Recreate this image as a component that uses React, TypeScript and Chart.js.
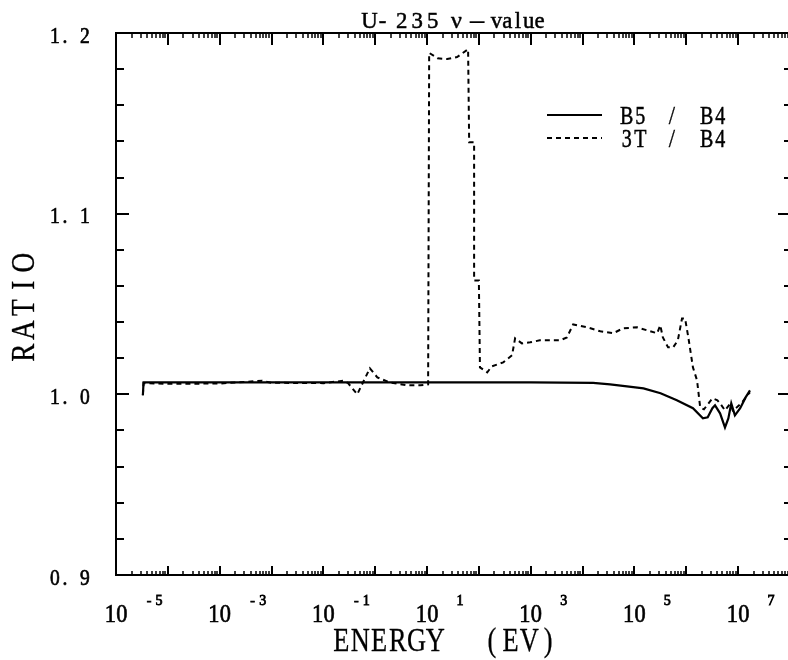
import React, { useEffect, useRef } from "react";
import { Chart, registerables } from "chart.js";

Chart.register(...registerables);

// ---- data (energy in eV, ratio) ----
const b5Energy = [3.3e-5, 3.4e-5, 1e-3, 1e-1, 10, 1e3, 1.6e4, 3.4e4, 7.2e4, 1.5e5, 3.2e5, 6.6e5, 1.35e6, 2.1e6, 2.6e6, 3.2e6, 3.6e6, 4.5e6, 5.6e6, 6.5e6, 7.4e6, 8.7e6, 1.1e7, 1.4e7, 1.7e7];
const b5Ratio = [0.9995, 1.0066, 1.0066, 1.0066, 1.0066, 1.0066, 1.0063, 1.0055, 1.0044, 1.0033, 1.0006, 0.9967, 0.9923, 0.9867, 0.9873, 0.9923, 0.9939, 0.9895, 0.9817, 0.9867, 0.995, 0.9884, 0.9923, 0.9983, 1.0022];

const t3Energy = [3.3e-5, 3.4e-5, 1e-4, 1e-3, 6.6e-3, 1e-2, 0.1, 0.24, 0.3, 0.45, 0.79, 1.1, 1.9, 4.1, 7.4, 10.5, 11.0, 16, 24.5, 38, 62, 65, 81, 81, 100, 105, 145, 178, 295, 437, 500, 676, 977, 1.5e3, 2.3e3, 3.7e3, 5.0e3, 6.6e3, 1.23e4, 2.2e4, 3.9e4, 6.0e4, 1.12e5, 1.78e5, 2.75e5, 3.16e5, 3.55e5, 4.47e5, 5.6e5, 6.9e5, 8.3e5, 9.5e5, 1.1e6, 1.35e6, 1.62e6, 1.86e6, 2.2e6, 3.2e6, 4.0e6, 4.5e6, 5.6e6, 7.1e6, 7.9e6, 9.5e6, 1.2e7, 1.5e7, 1.7e7];
const t3Ratio = [0.9995, 1.0062, 1.0058, 1.006, 1.0075, 1.0064, 1.0062, 1.0075, 1.0062, 1.0, 1.0144, 1.0094, 1.0066, 1.005, 1.005, 1.0055, 1.189, 1.186, 1.1856, 1.1867, 1.191, 1.1395, 1.1395, 1.063, 1.063, 1.0149, 1.0122, 1.0155, 1.0177, 1.0216, 1.031, 1.0282, 1.0288, 1.0299, 1.0299, 1.0299, 1.0315, 1.0387, 1.0371, 1.0349, 1.0338, 1.0365, 1.0371, 1.0354, 1.0338, 1.0382, 1.0315, 1.026, 1.026, 1.0299, 1.042, 1.042, 1.0315, 1.0149, 1.0077, 0.9928, 0.9917, 0.9978, 0.9967, 0.995, 0.9911, 0.995, 0.9911, 0.9928, 0.9956, 0.9994, 1.0011];

const yTickValues = [0.9, 1.0, 1.1, 1.2];
const yTickLabels = ["0. 9", "1. 0", "1. 1", "1. 2"];
const xLabelExponents = [-5, -3, -1, 1, 3, 5, 7];
const seriesNames = [
  ["B5", "/", "B4"],
  ["3T", "/", "B4"],
];
const titleParts = ["U-", "235", "\u03bd", "-", "value"];
const xTitle = "ENERGY  (EV)";
const yTitle = "RATIO";

const SERIF = '"Liberation Serif", "DejaVu Serif", serif';

function cells(ctx: CanvasRenderingContext2D, text: string, left: number, baseline: number, adv: number, size: number, sx: number, bold = 0) {
  ctx.font = `${size}px ${SERIF}`;
  ctx.textAlign = "center";
  ctx.textBaseline = "alphabetic";
  Array.from(text).forEach((ch, i) => {
    if (ch === " ") return;
    ctx.save();
    ctx.translate(left + (i + 0.5) * adv, baseline);
    ctx.scale(sx, 1);
    ctx.fillText(ch, 0, 0);
    if (bold > 0) {
      ctx.lineWidth = bold;
      ctx.strokeText(ch, 0, 0);
    }
    ctx.restore();
  });
}

function seg(ctx: CanvasRenderingContext2D, x1: number, y1: number, x2: number, y2: number) {
  ctx.beginPath();
  ctx.moveTo(x1, y1);
  ctx.lineTo(x2, y2);
  ctx.stroke();
}

const framePlugin = {
  id: "framePlugin",
  afterDraw(chart: any) {
    const ctx: CanvasRenderingContext2D = chart.ctx;
    const xs = chart.scales.x;
    const ys = chart.scales.y;
    const L = xs.left, R = xs.right, T = ys.top, B = ys.bottom;
    ctx.save();
    ctx.strokeStyle = "#000";
    ctx.fillStyle = "#000";
    ctx.lineWidth = 2;
    ctx.lineCap = "butt";
    ctx.beginPath();
    ctx.moveTo(R, T);
    ctx.lineTo(L, T);
    ctx.lineTo(L, B);
    ctx.lineTo(R, B);
    ctx.stroke();

    // x ticks (log)
    for (let d = -5; d <= 8; d++) {
      for (let m = 1; m <= 9; m++) {
        const v = m * Math.pow(10, d);
        if (v < xs.min || v > xs.max) continue;
        const px = Math.round(xs.getPixelForValue(v));
        const major = m === 1;
        ctx.lineWidth = major ? 2 : 1.5;
        seg(ctx, px, B, px, B - (major ? 9 : 4));
        seg(ctx, px, T, px, T + (major ? 12 : 5));
      }
    }
    // y ticks
    for (let k = 0; k <= 15; k++) {
      const v = 0.9 + 0.02 * k;
      const py = Math.round(ys.getPixelForValue(v));
      const major = k % 5 === 0;
      ctx.lineWidth = 2;
      seg(ctx, L, py, L + (major ? 13 : 8), py);
      seg(ctx, R, py, R - (major ? 10 : 4), py);
    }

    // y tick labels
    yTickValues.forEach((v, i) => {
      const py = ys.getPixelForValue(v);
      cells(ctx, yTickLabels[i], 50, py + 9.5, 10, 23, 0.85, 0.7);
    });

    // x tick labels
    xLabelExponents.forEach((e) => {
      const cx = xs.getPixelForValue(Math.pow(10, e));
      cells(ctx, "10", cx - 11.5, 622, 11.5, 26, 0.86, 0.7);
      const ex = e < 0 ? "-" + Math.abs(e) : String(e);
      cells(ctx, ex, cx + 28, 605, 10, 14, 1, 0.8);
    });

    // title
    cells(ctx, titleParts[0], 363, 28, 13, 24, 0.95, 0.5);
    cells(ctx, titleParts[1], 394, 28, 15.5, 24, 0.95, 0.5);
    cells(ctx, titleParts[2], 451, 28, 11, 24, 1, 0.5);
    ctx.save();
    ctx.font = `24px ${SERIF}`;
    ctx.textAlign = "center";
    ctx.translate(477, 28);
    ctx.scale(2.4, 1);
    ctx.fillText(titleParts[3], 0, 0);
    ctx.restore();
    cells(ctx, titleParts[4], 491, 28, 10.8, 24, 0.95, 0.5);

    // axis titles
    cells(ctx, xTitle, 332, 651, 18.8, 33, 0.8, 0.3);
    ctx.save();
    ctx.translate(34, 308);
    ctx.rotate(-Math.PI / 2);
    cells(ctx, yTitle, -56, 0, 22.5, 34, 0.8, 0.3);
    ctx.restore();

    // legend
    const rows = [115, 138];
    chart.data.datasets.forEach((ds: any, i: number) => {
      const y = rows[i];
      ctx.save();
      ctx.lineWidth = 2;
      ctx.setLineDash(ds.borderDash || []);
      seg(ctx, 547, y, 602, y);
      ctx.restore();
      const parts = seriesNames[i];
      cells(ctx, parts[0], 620, y + 9, 13.5, 25, 0.8, 0.5);
      cells(ctx, parts[1], 665, y + 9, 14, 25, 0.9, 0.3);
      cells(ctx, parts[2], 700, y + 9, 13.5, 25, 0.8, 0.5);
    });
    ctx.restore();
  },
};

export default function App() {
  const ref = useRef<HTMLCanvasElement | null>(null);
  useEffect(() => {
    if (!ref.current) return;
    const chart = new Chart(ref.current, {
      type: "scatter",
      data: {
        datasets: [
          {
            label: seriesNames[0].join(" "),
            data: b5Energy.map((x, i) => ({ x, y: b5Ratio[i] })),
            showLine: true,
            borderColor: "#000",
            borderWidth: 2.2,
            pointRadius: 0,
            tension: 0,
          },
          {
            label: seriesNames[1].join(" "),
            data: t3Energy.map((x, i) => ({ x, y: t3Ratio[i] })),
            showLine: true,
            borderColor: "#000",
            borderWidth: 2,
            borderDash: [5, 4],
            pointRadius: 0,
            tension: 0,
          },
        ],
      },
      options: {
        animation: false,
        responsive: false,
        events: [],
        layout: { padding: { left: 116, top: 33, right: 0, bottom: 85 } },
        scales: {
          x: { type: "logarithmic", min: 1e-5, max: 9.2e7, display: false },
          y: { type: "linear", min: 0.9, max: 1.2, display: false },
        },
        plugins: { legend: { display: false }, tooltip: { enabled: false } },
      },
      plugins: [framePlugin],
    });
    return () => chart.destroy();
  }, []);
  return (
    <canvas
      ref={ref}
      width={788}
      height={660}
      style={{ position: "fixed", left: 0, top: 0, width: 788, height: 660, background: "#fff" }}
    />
  );
}
